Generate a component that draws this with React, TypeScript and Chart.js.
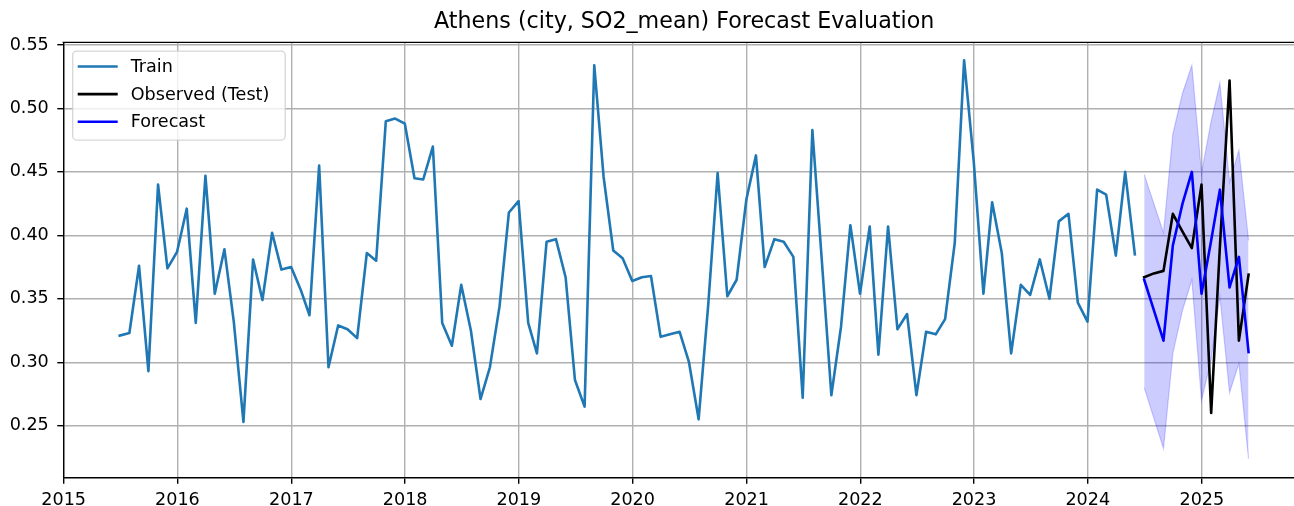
import React, { useEffect, useRef } from "react";
import { Chart, registerables } from "chart.js";

Chart.register(...registerables);

const TITLE = "Athens (city, SO2_mean) Forecast Evaluation";
const FONT = "'DejaVu Sans', 'Liberation Sans', sans-serif";

// Monthly series, first point = end of June 2015
const START_YEAR = 2015;
const START_MONTH = 6;

const TRAIN = [
  0.321, 0.323, 0.376, 0.293, 0.44, 0.374, 0.387, 0.421, 0.331, 0.447, 0.354, 0.389,
  0.332, 0.253, 0.381, 0.349, 0.402, 0.373, 0.375, 0.357, 0.337, 0.455, 0.296, 0.329,
  0.326, 0.319, 0.386, 0.38, 0.49, 0.492, 0.488, 0.445, 0.444, 0.47, 0.331, 0.313,
  0.361, 0.325, 0.271, 0.296, 0.344, 0.418, 0.427, 0.331, 0.307, 0.395, 0.397, 0.367,
  0.286, 0.265, 0.534, 0.446, 0.388, 0.382, 0.364, 0.367, 0.368, 0.32, 0.322, 0.324,
  0.3, 0.255, 0.346, 0.449, 0.352, 0.365, 0.428, 0.463, 0.375, 0.397, 0.395, 0.383,
  0.272, 0.483, 0.378, 0.274, 0.328, 0.408, 0.354, 0.407, 0.306, 0.407, 0.326, 0.338,
  0.274, 0.324, 0.322, 0.334, 0.394, 0.538, 0.458, 0.354, 0.426, 0.386, 0.307, 0.361,
  0.353, 0.381, 0.35, 0.411, 0.417, 0.347, 0.332, 0.436, 0.432, 0.384, 0.45, 0.385,
];

const TEST_OBSERVED = [0.367, 0.37, 0.372, 0.417, 0.403, 0.39, 0.44, 0.26, 0.391, 0.522, 0.317, 0.369];
const FORECAST = [0.365, 0.341, 0.317, 0.392, 0.425, 0.45, 0.354, 0.396, 0.436, 0.359, 0.383, 0.308];
const FORECAST_UPPER = [0.448, 0.425, 0.402, 0.48, 0.512, 0.534, 0.449, 0.49, 0.52, 0.442, 0.467, 0.396];
const FORECAST_LOWER = [0.28, 0.256, 0.232, 0.307, 0.341, 0.365, 0.27, 0.302, 0.352, 0.276, 0.299, 0.224];

const Y_TICKS = [0.25, 0.3, 0.35, 0.4, 0.45, 0.5, 0.55];
const X_TICK_YEARS = [2015, 2016, 2017, 2018, 2019, 2020, 2021, 2022, 2023, 2024, 2025];
const Y_MIN = 0.209;
const Y_MAX = 0.5521;

const SERIES_LABELS = ["Train", "Observed (Test)", "Forecast"];
const SERIES_COLORS = ["#1f77b4", "#000000", "#0000ff"];
const BAND_COLOR = "rgba(0,0,255,0.2)";

function monthEnd(i: number): number {
  return Date.UTC(START_YEAR, START_MONTH - 1 + i + 1, 0);
}

const TOTAL = TRAIN.length + TEST_OBSERVED.length;
const FIRST_X = monthEnd(0);
const LAST_X = monthEnd(TOTAL - 1);
const X_MARGIN = (LAST_X - FIRST_X) * 0.05;
const X_MIN = FIRST_X - X_MARGIN;
const X_MAX = LAST_X + X_MARGIN;

const trainPts = TRAIN.map((y, i) => ({ x: monthEnd(i), y }));
const testPts = TEST_OBSERVED.map((y, i) => ({ x: monthEnd(TRAIN.length + i), y }));
const fcPts = FORECAST.map((y, i) => ({ x: monthEnd(TRAIN.length + i), y }));
const upPts = FORECAST_UPPER.map((y, i) => ({ x: monthEnd(TRAIN.length + i), y }));
const loPts = FORECAST_LOWER.map((y, i) => ({ x: monthEnd(TRAIN.length + i), y }));

const framePlugin = {
  id: "frameAndLegend",
  afterDraw(chart: any) {
    const ctx = chart.ctx as CanvasRenderingContext2D;
    const ca = chart.chartArea;
    ctx.save();
    // top spine
    ctx.strokeStyle = "#000";
    ctx.lineWidth = 1.4;
    ctx.beginPath();
    ctx.moveTo(ca.left - 0.7, ca.top);
    ctx.lineTo(ca.right, ca.top);
    ctx.stroke();

    // legend box
    const bx = ca.left + 9.4;
    const by = ca.top + 8.7;
    const bw = 212.5;
    const bh = 89;
    const r = 4;
    ctx.beginPath();
    ctx.moveTo(bx + r, by);
    ctx.lineTo(bx + bw - r, by);
    ctx.arcTo(bx + bw, by, bx + bw, by + r, r);
    ctx.lineTo(bx + bw, by + bh - r);
    ctx.arcTo(bx + bw, by + bh, bx + bw - r, by + bh, r);
    ctx.lineTo(bx + r, by + bh);
    ctx.arcTo(bx, by + bh, bx, by + bh - r, r);
    ctx.lineTo(bx, by + r);
    ctx.arcTo(bx, by, bx + r, by, r);
    ctx.closePath();
    ctx.fillStyle = "rgba(255,255,255,0.8)";
    ctx.fill();
    ctx.strokeStyle = "rgba(204,204,204,0.8)";
    ctx.lineWidth = 1.3;
    ctx.stroke();

    ctx.font = `17.6px ${FONT}`;
    ctx.textBaseline = "middle";
    ctx.textAlign = "left";
    SERIES_LABELS.forEach((label, i) => {
      const yy = by + 15.5 + i * 27.6;
      ctx.strokeStyle = SERIES_COLORS[i];
      ctx.lineWidth = 2.6;
      ctx.beginPath();
      ctx.moveTo(bx + 5, yy);
      ctx.lineTo(bx + 45, yy);
      ctx.stroke();
      ctx.fillStyle = "#000";
      ctx.fillText(label, bx + 58, yy + 1);
    });
    ctx.restore();
  },
};

export default function App() {
  const ref = useRef<HTMLCanvasElement>(null);
  useEffect(() => {
    const canvas = ref.current!;
    const lineCommon = {
      pointRadius: 0,
      pointHoverRadius: 0,
      borderWidth: 2.6,
      tension: 0,
      fill: false,
      borderJoinStyle: "round" as const,
      borderCapStyle: "square" as const,
    };
    const tickFont = { family: FONT, size: 17.6 };
    const chart = new Chart(canvas, {
      type: "line",
      data: {
        datasets: [
          { ...lineCommon, label: SERIES_LABELS[0], data: trainPts, borderColor: SERIES_COLORS[0], order: 2 },
          { ...lineCommon, label: SERIES_LABELS[1], data: testPts, borderColor: SERIES_COLORS[1], order: 1 },
          { ...lineCommon, label: SERIES_LABELS[2], data: fcPts, borderColor: SERIES_COLORS[2], order: 0 },
          {
            label: "lower",
            data: loPts,
            pointRadius: 0,
            borderWidth: 1.2,
            borderColor: BAND_COLOR,
            fill: false,
            order: 10,
          },
          {
            label: "upper",
            data: upPts,
            pointRadius: 0,
            borderWidth: 1.2,
            borderColor: BAND_COLOR,
            backgroundColor: BAND_COLOR,
            fill: { target: 3 },
            order: 11,
          },
        ],
      },
      options: {
        responsive: false,
        animation: false,
        devicePixelRatio: 1,
        events: [],
        layout: { padding: 0 },
        plugins: {
          legend: { display: false },
          tooltip: { enabled: false },
          title: {
            display: true,
            text: TITLE,
            fullSize: false,
            color: "#000",
            font: { family: FONT, size: 22.2, weight: "normal", lineHeight: 1.2 },
            padding: { top: 8.6, bottom: 7.1 },
          },
        },
        scales: {
          x: {
            type: "linear",
            min: X_MIN,
            max: X_MAX,
            afterBuildTicks: (s: any) => {
              s.ticks = X_TICK_YEARS.map((y) => ({ value: Date.UTC(y, 0, 1) }));
            },
            afterFit: (s: any) => {
              s.height = 28.3;
            },
            ticks: {
              callback: (v: any) => String(new Date(v).getUTCFullYear()),
              color: "#000",
              font: tickFont,
              padding: 6.5,
              maxRotation: 0,
              autoSkip: false,
            },
            grid: { color: "#b0b0b0", lineWidth: 1.4, tickColor: "#000", tickWidth: 1.4, tickLength: 6 },
            border: { color: "#000", width: 1.4 },
          },
          y: {
            type: "linear",
            min: Y_MIN,
            max: Y_MAX,
            afterBuildTicks: (s: any) => {
              s.ticks = Y_TICKS.map((v) => ({ value: v }));
            },
            afterFit: (s: any) => {
              s.width = 63.3;
            },
            ticks: {
              callback: (v: any) => Number(v).toFixed(2),
              color: "#000",
              font: tickFont,
              padding: 8.5,
            },
            grid: { color: "#b0b0b0", lineWidth: 1.4, tickColor: "#000", tickWidth: 1.4, tickLength: 6 },
            border: { color: "#000", width: 1.4 },
          },
        },
      },
      plugins: [framePlugin],
    } as any);
    return () => chart.destroy();
  }, []);
  return (
    <div
      style={{
        position: "fixed",
        left: 0,
        top: 0,
        width: 1294,
        height: 506,
        overflow: "hidden",
        background: "#fff",
      }}
    >
      <canvas ref={ref} width={1305} height={506} style={{ display: "block" }} />
    </div>
  );
}
